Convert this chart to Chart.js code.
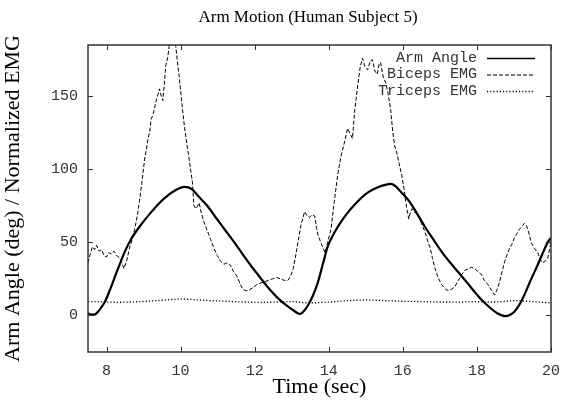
<!DOCTYPE html>
<html>
<head>
<meta charset="utf-8">
<script src="https://cdn.jsdelivr.net/npm/chart.js@4"></script>
<style>
html,body{margin:0;padding:0;background:#fff;}
#wrap{width:570px;height:400px;position:relative;}
</style>
</head>
<body>
<div id="wrap"><canvas id="c" width="570" height="400"></canvas></div>
<script>
// ---- data ----
const chartTitle = "Arm Motion (Human Subject 5)";
const xTitle = "Time (sec)";
const yTitle = "Arm Angle (deg) / Normalized EMG";
const seriesNames = ["Arm Angle", "Biceps EMG", "Triceps EMG"];
const xTicks = [8, 10, 12, 14, 16, 18, 20];
const yTicks = [0, 50, 100, 150];
const xRange = [7.5, 20];
const yRange = [-25, 185];

const armT = [7.50,7.60,7.69,7.80,7.96,8.10,8.31,8.50,8.67,8.90,9.20,9.45,9.65,9.85,10.10,10.30,10.50,10.72,10.95,11.17,11.45,11.70,11.90,12.10,12.35,12.64,12.85,12.99,13.10,13.22,13.33,13.44,13.58,13.71,13.85,13.97,14.15,14.33,14.55,14.78,15.05,15.31,15.55,15.67,15.80,16.00,16.16,16.40,16.60,16.85,17.05,17.30,17.50,17.75,17.94,18.15,18.39,18.55,18.75,18.90,19.01,19.15,19.28,19.45,19.64,19.80,19.91,20.00];
const armV = [1.5,0.5,0.7,3.5,9.5,18,32,44,52.5,61,70.5,77.5,82,85.5,88,86.5,81,75,67,59.5,50,41,34,27.5,19.5,11.5,7,4.5,2.5,1,3,7,14,23,36,47,56.5,64,71.5,78,84,87.5,89.5,90,88.5,83,78.5,69,60.5,51,43.5,35.5,29.5,22,16,10,4.5,1.5,-0.5,0.5,2.5,7.5,14,24,34.5,44,50,53];

const bicT = [7.50,7.55,7.62,7.68,7.73,7.80,7.87,7.93,8.00,8.06,8.13,8.20,8.27,8.33,8.40,8.47,8.55,8.62,8.69,8.76,8.83,8.89,8.96,9.03,9.08,9.12,9.17,9.20,9.25,9.29,9.35,9.40,9.43,9.48,9.52,9.56,9.60,9.65,9.69,9.75,9.80,9.87,9.92,9.96,10.03,10.10,10.17,10.23,10.28,10.32,10.36,10.42,10.50,10.56,10.63,10.72,10.81,10.90,10.99,11.08,11.17,11.26,11.35,11.43,11.52,11.60,11.68,11.75,11.83,11.95,12.05,12.15,12.25,12.37,12.48,12.59,12.70,12.80,12.90,12.97,13.04,13.10,13.17,13.25,13.35,13.42,13.48,13.55,13.62,13.67,13.71,13.80,13.90,13.97,14.06,14.15,14.24,14.33,14.42,14.51,14.58,14.64,14.70,14.78,14.85,14.91,14.98,15.05,15.12,15.18,15.25,15.31,15.36,15.40,15.47,15.54,15.60,15.67,15.73,15.78,15.83,15.90,15.97,16.03,16.10,16.16,16.20,16.25,16.34,16.43,16.50,16.60,16.67,16.74,16.80,16.87,16.95,17.05,17.15,17.23,17.32,17.41,17.50,17.59,17.68,17.77,17.85,17.94,18.03,18.12,18.20,18.30,18.40,18.48,18.55,18.61,18.68,18.75,18.82,18.88,18.95,19.01,19.08,19.15,19.22,19.28,19.33,19.37,19.42,19.46,19.55,19.64,19.70,19.77,19.84,19.91,19.96,20.00];
const bicV = [36,41,47,45,48,44,45,41,40,43,42,44,41,40,37,32,38,46,52,59,68,78,92,107,114,121,126,134,137,141,148,152,155,150,147,158,171,176,184,192,194,184,172,164,146,130,117,107,98,91,75,73,77,70,64,58,52,46,41,37,35,36,34,30,27,22,18,17,17,19,21,22,23,24,25,26,25,24,24,27,32,40,50,62,71,68,67,69,68,60,55,49,43,50,59,78,96,109,118,128,124,121,140,157,170,176,170,168,174,175,167,165,172,173,163,159,152,141,125,116,112,104,96,87,74,66,70,73,70,68,63,57,51,46,39,32,26,21,18,17,18,20,24,28,31,32,33,32,30,28,24,21,17,14,18,23,30,37,42,46,49,53,56,59,61,63,62,59,55,50,46,43,39,36,37,39,45,50];

const triT = [7.5,7.75,8.0,8.25,8.5,8.75,9.0,9.25,9.5,9.75,10.0,10.25,10.5,10.75,11.0,11.25,11.5,11.75,12.0,12.25,12.5,12.75,13.0,13.25,13.5,13.75,14.0,14.25,14.5,14.75,15.0,15.25,15.5,15.75,16.0,16.25,16.5,16.75,17.0,17.25,17.5,17.75,18.0,18.25,18.5,18.75,19.0,19.25,19.5,19.75,20.0];
const triV = [9.5,9.4,9.2,9.0,9.1,9.3,9.6,10.0,10.4,10.9,11.3,11.0,10.6,10.2,9.9,9.7,9.4,9.2,9.0,8.9,9.1,9.3,9.5,8.9,8.6,8.8,9.1,9.6,10.1,10.4,10.6,10.4,10.1,9.9,9.7,9.6,9.5,9.3,9.2,9.2,9.1,9.3,9.4,9.2,9.2,9.6,10.1,9.8,9.5,9.0,8.7];

function pts(t, v) { return t.map((x, i) => ({ x: x, y: v[i] })); }

const lineStyles = [
  { width: 2.2, dash: [] },
  { width: 1, dash: [4, 2] },
  { width: 1.3, dash: [1.2, 2] }
];

const frame = {
  id: 'frame',
  afterDatasetsDraw(chart) {
    const { ctx, chartArea: a, scales } = chart;
    ctx.save();
    ctx.strokeStyle = '#333';
    ctx.lineWidth = 1.5;
    ctx.setLineDash([]);
    ctx.strokeRect(a.left, a.top, a.right - a.left, a.bottom - a.top);
    ctx.lineWidth = 1;
    const tl = 5;
    xTicks.forEach(v => {
      const px = Math.round(scales.x.getPixelForValue(v)) + 0.5;
      ctx.beginPath();
      ctx.moveTo(px, a.bottom); ctx.lineTo(px, a.bottom - tl);
      ctx.moveTo(px, a.top); ctx.lineTo(px, a.top + tl);
      ctx.stroke();
    });
    yTicks.forEach(v => {
      const py = Math.round(scales.y.getPixelForValue(v)) + 0.5;
      ctx.beginPath();
      ctx.moveTo(a.left, py); ctx.lineTo(a.left + tl, py);
      ctx.moveTo(a.right, py); ctx.lineTo(a.right - tl, py);
      ctx.stroke();
    });
    // legend (gnuplot style, inside top right)
    ctx.font = '15px "Liberation Mono", monospace';
    ctx.fillStyle = '#333';
    ctx.textAlign = 'right';
    ctx.textBaseline = 'middle';
    const rows = [58, 74.5, 91];
    seriesNames.forEach((n, i) => {
      ctx.fillText(n, 477, rows[i]);
      ctx.beginPath();
      ctx.strokeStyle = '#000';
      ctx.lineWidth = i === 0 ? 1.5 : lineStyles[i].width;
      ctx.setLineDash(lineStyles[i].dash);
      ctx.moveTo(487, rows[i] + 0.5); ctx.lineTo(535, rows[i] + 0.5);
      ctx.stroke();
    });
    ctx.setLineDash([]);
    // chart title
    ctx.font = '17px "Liberation Serif", serif';
    ctx.fillStyle = '#000';
    ctx.textAlign = 'center';
    ctx.fillText(chartTitle, 308, 18);
    ctx.restore();
  }
};

const datasets = [
  { label: seriesNames[0], data: pts(armT, armV), cubicInterpolationMode: 'monotone' },
  { label: seriesNames[1], data: pts(bicT, bicV), tension: 0 },
  { label: seriesNames[2], data: pts(triT, triV), cubicInterpolationMode: 'monotone' }
].map((d, i) => Object.assign(d, {
  borderColor: '#000',
  borderWidth: lineStyles[i].width,
  borderDash: lineStyles[i].dash,
  pointRadius: 0,
  fill: false
}));

new Chart(document.getElementById('c'), {
  type: 'line',
  data: { datasets: datasets },
  options: {
    responsive: false,
    animation: false,
    layout: { padding: { top: 45, right: 14.7, left: 0, bottom: 0 } },
    plugins: { legend: { display: false }, title: { display: false }, tooltip: { enabled: false } },
    scales: {
      x: {
        type: 'linear',
        min: xRange[0], max: xRange[1],
        afterBuildTicks: s => { s.ticks = xTicks.map(v => ({ value: v })); },
        afterFit: s => { s.height = 48; },
        grid: { display: false, drawTicks: false },
        border: { display: false },
        ticks: { padding: 10, color: '#333', font: { family: '"Liberation Mono", monospace', size: 15 }, maxRotation: 0, autoSkip: false },
        title: { display: true, text: xTitle, color: '#000', padding: 0, font: { family: '"Liberation Serif", serif', size: 22 } }
      },
      y: {
        type: 'linear',
        min: yRange[0], max: yRange[1],
        afterBuildTicks: s => { s.ticks = yTicks.map(v => ({ value: v })); },
        afterFit: s => { s.width = 88; },
        grid: { display: false, drawTicks: false },
        border: { display: false },
        ticks: { padding: 10, color: '#333', font: { family: '"Liberation Mono", monospace', size: 15 } },
        title: { display: true, text: yTitle, color: '#000', padding: 0, font: { family: '"Liberation Serif", serif', size: 22 } }
      }
    }
  },
  plugins: [frame]
});
</script>
</body>
</html>
